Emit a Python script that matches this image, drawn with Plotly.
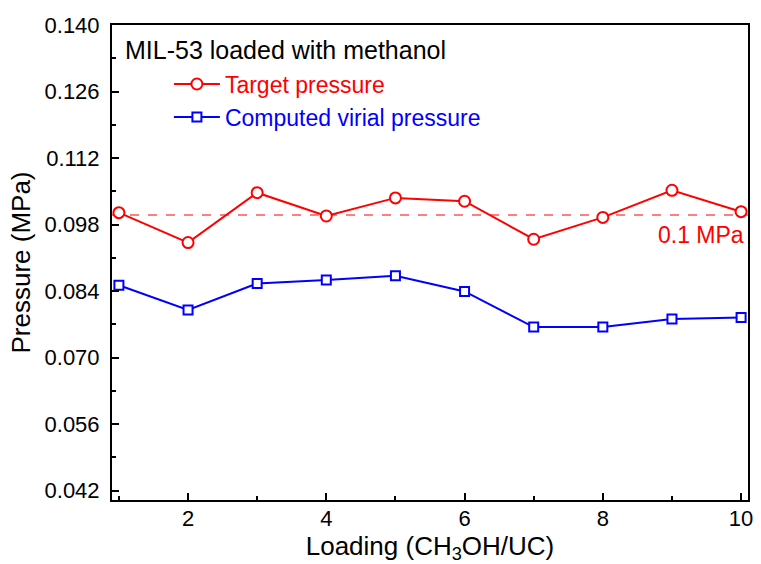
import plotly.graph_objects as go

loading = [1, 2, 3, 4, 5, 6, 7, 8, 9, 10]
target_pressure = [0.1005, 0.0942, 0.1047, 0.0998, 0.1036, 0.1029, 0.0949, 0.0995, 0.1052, 0.1007]
virial_pressure = [0.0852, 0.0800, 0.0856, 0.0863, 0.0872, 0.0839, 0.0764, 0.0764, 0.0781, 0.0784]
ref_pressure = 0.1

RED = "#ff0000"
BLUE = "#0000ff"
FONT = "Liberation Sans, Arial, sans-serif"

fig = go.Figure()
fig.add_trace(go.Scatter(
    x=loading, y=target_pressure, mode="lines+markers",
    name="<span style='color:%s'>Target pressure</span>" % RED,
    line=dict(color=RED, width=2),
    marker=dict(symbol="circle", size=11, color="white", line=dict(color=RED, width=2)),
))
fig.add_trace(go.Scatter(
    x=loading, y=virial_pressure, mode="lines+markers",
    name="<span style='color:%s'>Computed virial pressure</span>" % BLUE,
    line=dict(color=BLUE, width=2),
    marker=dict(symbol="square", size=9, color="white", line=dict(color=BLUE, width=2)),
))
fig.add_shape(type="line", xref="x domain", x0=0, x1=1, yref="y", y0=ref_pressure, y1=ref_pressure,
              line=dict(color=RED, width=1, dash="dash"), layer="below")
fig.add_annotation(x=10, y=ref_pressure, xref="x", yref="y", text="0.1 MPa", showarrow=False,
                   xanchor="right", yanchor="top", yshift=-5, xshift=5,
                   font=dict(family=FONT, size=23, color=RED))
fig.add_annotation(x=0.018, y=0.948, xref="paper", yref="paper", text="MIL-53 loaded with methanol",
                   showarrow=False, xanchor="left", yanchor="middle",
                   font=dict(family=FONT, size=25, color="black"))

fig.update_layout(
    width=761, height=564,
    margin=dict(l=112, r=8, t=25, b=64),
    paper_bgcolor="white", plot_bgcolor="white",
    font=dict(family=FONT, size=22, color="black"),
    showlegend=True,
    legend=dict(
        x=0.014, y=0.921, xanchor="left", yanchor="top",
        bgcolor="rgba(0,0,0,0)",
        font=dict(size=23, family=FONT),
        indentation=48,
        itemwidth=46,
        tracegroupgap=0,
    ),
    xaxis=dict(
        range=[0.9, 10.1], tick0=0, dtick=2,
        ticks="inside", ticklen=7, tickwidth=1.5, tickcolor="black",
        minor=dict(ticks="inside", ticklen=4, dtick=1, tick0=0, tickcolor="black", tickwidth=1.5),
        showline=True, linecolor="black", linewidth=2, mirror=True,
        showgrid=False, zeroline=False,
        tickfont=dict(size=22, family=FONT),
        ticklabelstandoff=-2,
        title=dict(text="Loading (CH<sub>3</sub>OH/UC)", font=dict(size=26, family=FONT), standoff=3),
    ),
    yaxis=dict(
        range=[0.040, 0.140], tick0=0.042, dtick=0.014, tickformat=".3f",
        ticks="inside", ticklen=7, tickwidth=1.5, tickcolor="black",
        minor=dict(ticks="inside", ticklen=4, dtick=0.007, tick0=0.042, tickcolor="black", tickwidth=1.5),
        showline=True, linecolor="black", linewidth=2, mirror=True,
        showgrid=False, zeroline=False,
        tickfont=dict(size=22, family=FONT),
        ticklabelstandoff=6,
        title=dict(text="Pressure (MPa)", font=dict(size=26, family=FONT), standoff=6),
    ),
)

fig.write_html("out.html")
